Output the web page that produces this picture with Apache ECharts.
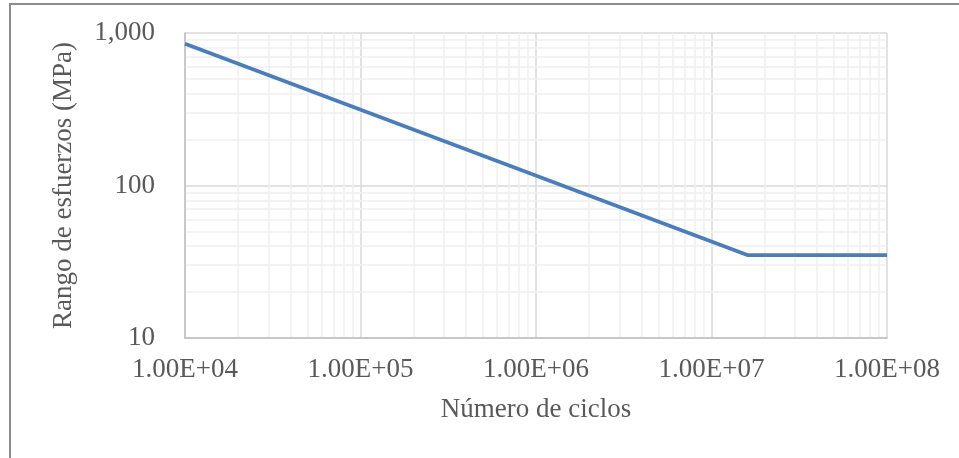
<!DOCTYPE html>
<html>
<head>
<meta charset="utf-8">
<script src="https://cdn.jsdelivr.net/npm/echarts@6/dist/echarts.min.js"></script>
<style>
  html, body { margin: 0; padding: 0; background: #fff; }
  #chart { width: 959px; height: 458px; }
</style>
</head>
<body>
<div id="chart"></div>
<script>
// S-N curve points
const ciclos = [1e4, 1.6e7, 1e8]
const esfuerzos = [850, 35, 35]

// minor grid values (2..9 of each decade), Excel style
const minorX = []
for (const d of [1e4, 1e5, 1e6, 1e7]) {
  for (let k = 2; k <= 9; k++) minorX.push(k * d)
}
const minorY = []
for (const d of [10, 100]) {
  for (let k = 2; k <= 9; k++) minorY.push(k * d)
}

const fontFam = '"Liberation Serif", "Times New Roman", serif'
const txt = '#595959'

function expLabel (v) {
  const e = Math.round(Math.log10(v))
  const m = v / Math.pow(10, e)
  return m.toFixed(2) + 'E+' + String(e).padStart(2, '0')
}

let chart = echarts.init(document.getElementById('chart'))
chart.setOption({
  animation: false,
  graphic: [{
    type: 'rect',
    shape: { x: 10, y: 4, width: 1000, height: 500 },
    style: { fill: 'none', stroke: '#8c8c8c', lineWidth: 2 },
    silent: true
  }],
  grid: { left: 185, top: 33, right: 72, bottom: 120 },
  xAxis: {
    type: 'log',
    logBase: 10,
    min: 1e4,
    max: 1e8,
    name: 'Número de ciclos',
    nameLocation: 'middle',
    nameGap: 58,
    nameTextStyle: { fontFamily: fontFam, fontSize: 27, color: txt },
    axisLine: { lineStyle: { color: '#bfbfbf', width: 1.5 } },
    axisTick: { show: false },
    axisLabel: {
      margin: 18,
      fontFamily: fontFam, fontSize: 27, color: txt,
      formatter: expLabel
    },
    splitLine: { show: true, lineStyle: { color: '#d9d9d9', width: 1.5 } }
  },
  yAxis: {
    type: 'log',
    logBase: 10,
    min: 10,
    max: 1000,
    name: 'Rango de esfuerzos (MPa)',
    nameLocation: 'middle',
    nameGap: 108,
    nameTextStyle: { fontFamily: fontFam, fontSize: 27, color: txt },
    axisLine: { show: true, lineStyle: { color: '#bfbfbf', width: 1.5 } },
    axisTick: { show: false },
    axisLabel: {
      margin: 30,
      fontFamily: fontFam, fontSize: 27, color: txt,
      formatter: v => v.toLocaleString('en-US')
    },
    splitLine: { show: true, lineStyle: { color: '#d9d9d9', width: 1.5 } }
  },
  series: [
    {
      // carrier for the minor grid lines
      type: 'line',
      z: 0,
      silent: true,
      symbol: 'none',
      lineStyle: { width: 0, opacity: 0 },
      data: ciclos.map((c, i) => [c, esfuerzos[i]]),
      markLine: {
        z: 0,
        silent: true,
        symbol: 'none',
        label: { show: false },
        lineStyle: { color: '#efefef', width: 1.5, type: 'solid' },
        data: minorX.map(v => ({ xAxis: v })).concat(minorY.map(v => ({ yAxis: v })))
      }
    },
    {
      name: 'S-N',
      type: 'line',
      z: 10,
      symbol: 'none',
      lineStyle: { color: '#4a7ebb', width: 3.8 },
      data: ciclos.map((c, i) => [c, esfuerzos[i]])
    }
  ]
})
</script>
</body>
</html>
